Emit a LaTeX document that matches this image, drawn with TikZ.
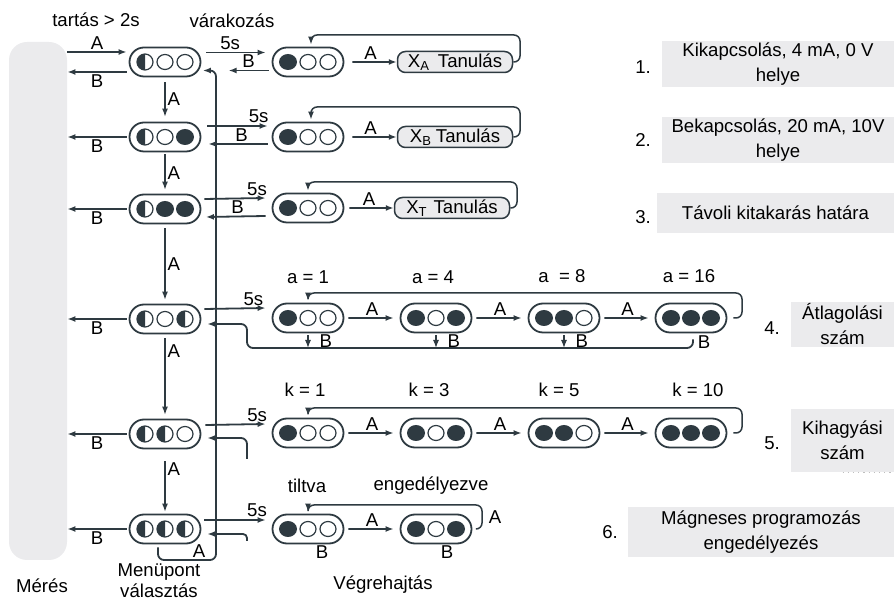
\documentclass[tikz,border=0pt]{standalone}
\usepackage{fontspec}
\setmainfont{Liberation Sans}
\usetikzlibrary{calc,positioning,shapes.misc,arrows.meta}

\definecolor{ink}{HTML}{2E3A41}
\definecolor{panel}{HTML}{EBEBED}

\tikzset{
  lampbox/.style={rounded rectangle, draw=ink, line width=0.9pt, fill=white,
    minimum width=35.5pt, minimum height=14.5pt, inner sep=0pt},
  learnbox/.style={rectangle, rounded corners=4pt, draw=ink, line width=0.75pt,
    fill=panel, minimum width=57.5pt, minimum height=10.5pt, inner ysep=0pt},
  infobox/.style={fill=panel, align=center, inner sep=0pt,
    font=\fontsize{9.3}{12.5}\selectfont},
  arr/.style={-{Latex[length=4pt,width=3pt]}, draw=ink, line width=0.9pt},
  thinarr/.style={arr, line width=0.6pt},
  looparr/.style={arr, line width=0.75pt, rounded corners=3pt},
  lbl/.style={inner sep=1pt},
}

% #1 = hely, #2 = 0 (üres), 1 (teli), 2 (fél)
\newcommand{\lamp}[2]{%
  \ifcase#2\relax
    \draw[ink, line width=0.6pt, fill=white] #1 ellipse[x radius=8, y radius=7.5];
  \or
    \fill[ink] #1 ellipse[x radius=9, y radius=8];
  \or
    \fill[ink] #1 ++(0,8) arc[start angle=90, end angle=270, radius=8] -- cycle;
    \draw[ink, line width=0.6pt] #1 circle[radius=8];
  \fi}
\newcommand{\lamps}[4]{%
  \lamp{($(#1)+(-20,0)$)}{#2}%
  \lamp{(#1.center)}{#3}%
  \lamp{($(#1)+(20,0)$)}{#4}}

\begin{document}
\begin{tikzpicture}[x=0.5pt, y=0.5pt, every node/.style={font=\fontsize{9.3}{11}\selectfont}]
  \useasboundingbox (0,0) rectangle (894,-603);

  % Mérés
  \node[fill=panel, rounded corners=9pt, minimum width=29pt, minimum height=259pt,
    inner sep=0pt] (bar) at (38,-301) {};
  \node (meres) at (42,-586) {Mérés};
  \node (tartas) at (96,-20) {tartás > 2s};
  \node (varak) at (232,-21) {várakozás};

  % menüpontok
  \node[lampbox] (m1) at (165,-62) {};
  \node[lampbox] (m2) at (165,-137) {};
  \node[lampbox] (m3) at (165,-209) {};
  \node[lampbox] (m4) at (165,-319) {};
  \node[lampbox] (m5) at (165,-434) {};
  \node[lampbox] (m6) at (165,-529) {};
  \lamps{m1}{2}{0}{0}
  \lamps{m2}{2}{0}{1}
  \lamps{m3}{2}{1}{1}
  \lamps{m4}{2}{0}{2}
  \lamps{m5}{2}{2}{0}
  \lamps{m6}{2}{2}{2}
  \node[align=center, font=\fontsize{9.3}{10.5}\selectfont] (menu) at (159,-581) {Menüpont\\választás};

  % végrehajtás
  \node[lampbox] (e1) at (308,-62) {};
  \node[lampbox] (e2) at (308,-137) {};
  \node[lampbox] (e3) at (308,-208) {};
  \node[learnbox] (xa) at (455,-62) {X\textsubscript{A}\hspace{4pt}Tanulás};
  \node[learnbox] (xb) at (455,-137) {X\textsubscript{B}\hspace{2pt}Tanulás};
  \node[learnbox] (xt) at (452,-208) {X\textsubscript{T}\hspace{3pt}Tanulás};
  \lamps{e1}{1}{0}{0}
  \lamps{e2}{1}{0}{0}
  \lamps{e3}{1}{0}{0}

  \node[lampbox] (a1) at (308,-318) {};
  \node[lampbox] (a2) at (436,-318) {};
  \node[lampbox] (a3) at (564,-318) {};
  \node[lampbox] (a4) at (691,-318) {};
  \lamps{a1}{1}{0}{0}
  \lamps{a2}{1}{0}{1}
  \lamps{a3}{1}{1}{0}
  \lamps{a4}{1}{1}{1}
  \node (la1) at (308,-277) {a = 1};
  \node (la2) at (433,-277) {a = 4};
  \node (la3) at (562,-276) {a\ \ = 8};
  \node (la4) at (689,-276) {a = 16};

  \node[lampbox] (k1) at (308,-433) {};
  \node[lampbox] (k2) at (436,-433) {};
  \node[lampbox] (k3) at (564,-433) {};
  \node[lampbox] (k4) at (691,-433) {};
  \lamps{k1}{1}{0}{0}
  \lamps{k2}{1}{0}{1}
  \lamps{k3}{1}{1}{0}
  \lamps{k4}{1}{1}{1}
  \node (lk1) at (305,-390) {k = 1};
  \node (lk2) at (429,-390) {k = 3};
  \node (lk3) at (559,-390) {k = 5};
  \node (lk4) at (698,-390) {k = 10};

  \node[lampbox] (g1) at (308,-529) {};
  \node[lampbox] (g2) at (436,-529) {};
  \lamps{g1}{1}{0}{0}
  \lamps{g2}{1}{0}{1}
  \node (tilt) at (307,-486) {tiltva};
  \node (enged) at (431,-486) {engedélyezve};
  \node (gb1) at (322,-552) {B};
  \node (gb2) at (447,-552) {B};
  \node (vegre) at (383,-585) {Végrehajtás};

  % Mérés <-> menü
  \draw[arr] ($(m1.west -| bar.east)+(0,10)$) -- ($(m1.west)+(-2,10)$)
    node[midway, above, lbl] (lA0) {A};
  \draw[arr] ($(m1.west)+(-2,-10)$) -- ($(m1.west -| bar.east)+(0,-10)$)
    node[midway, below, lbl] (lB1) {B};
  \foreach \m in {m2,m3,m4,m5,m6}
    \draw[arr] ($(\m.west)+(-2,0)$) -- (\m.west -| bar.east) node[midway, below, lbl] {B};

  % menü lefelé
  \draw[thinarr, shorten <=2.5pt, shorten >=2.5pt] (m1) -- (m2) node[midway, right, lbl] {A};
  \draw[thinarr, shorten <=1pt, shorten >=2pt] (m2) -- (m3) node[midway, right, lbl] {A};
  \draw[thinarr, shorten <=2pt, shorten >=2pt] (m3) -- (m4) node[midway, right, lbl] {A};
  \draw[thinarr, shorten <=2pt, shorten >=2pt] (m4) -- (m5) node[pos=0.2, right, lbl] {A};
  \draw[thinarr, shorten <=6pt, shorten >=1pt] (m5) -- (m6) node[pos=0.3, right, lbl] {A};

  % visszatérés
  \coordinate (ret) at (216,-560);
  \draw[arr, rounded corners=3pt] ($(m6.south)+(-7,-3)$) |- (ret) |- ($(m1.east)+(1.5,-8.5)$);
  \node[lbl] (lAret) at (199,-551) {A};

  % menü -> végrehajtás
  \draw[arr] ($(m1.east)+(5,9.5)$) -- ($(e1.west)+(-6,9.5)$) node[pos=0.4, above, lbl] {5s};
  \draw[arr] ($(e1.west)+(-3,-8.5)$) -- ($(e1.west)+(-43,-8.5)$) node[midway, above, lbl] {B};
  \draw[arr] ($(m2.east)+(6,11)$) -- ($(e2.west)+(-4,11)$) node[pos=0.85, above, lbl] {5s};
  \draw[arr] ($(e2.west)+(-4,-7)$) -- ($(m2.east)+(7,-7)$) node[pos=0.44, above, lbl] {B};
  \draw[arr] ($(m3.east)+(3,10)$) -- ($(e3.west)+(-6,10)$) node[pos=0.86, above, lbl] {5s};
  \draw[arr] ($(e3.west)+(-6,-8)$) -- ($(m3.east)+(4.5,-8)$) node[pos=0.47, above, lbl] {B};
  \draw[arr] ($(m4.east)+(3,10)$) -- ($(a1.west)+(-6,10)$) node[pos=0.8, above, lbl] {5s};
  \draw[arr] ($(m5.east)+(4,9)$) -- ($(k1.west)+(-6,9)$) node[pos=0.86, above, lbl] {5s};
  \draw[arr] ($(m6.east)+(3,9)$) -- ($(g1.west)+(-6,9)$) node[pos=0.86, above, lbl] {5s};

  % tanulás
  \draw[arr, shorten <=4pt] (e1) -- (xa) node[midway, above, lbl] {A};
  \draw[arr, shorten <=4pt] (e2) -- (xb) node[midway, above, lbl] {A};
  \draw[arr, shorten <=2.5pt] (e3) -- (xt) node[midway, above, lbl] {A};
  \coordinate (t1) at (520,-35);
  \coordinate (t2) at (520,-107);
  \coordinate (t3) at (517,-182);
  \draw[looparr] (xa.east) -| (t1) -| ($(e1.north)+(3,2)$);
  \draw[looparr] (xb.east) -| (t2) -| ($(e2.north)+(3,2)$);
  \draw[looparr] (xt.east) -| (t3) -| ($(e3.north)+(0,2)$);

  % átlagolás
  \foreach \p/\q in {a1/a2, a2/a3, a3/a4, k1/k2, k2/k3, k3/k4, g1/g2}
    \draw[arr, shorten <=2pt, shorten >=3pt] (\p) -- (\q) node[midway, above, lbl] {A};
  \coordinate (t4) at (742,-293);
  \coordinate (t5) at (742,-408);
  \coordinate (t6) at (482,-505);
  \draw[looparr, shorten <=3pt] (a4.east) -| (t4) -| ($(a1.north)+(0,2)$);
  \draw[looparr, shorten <=3pt] (k4.east) -| (t5) -| ($(k1.north)+(0,2)$);
  \draw[looparr, shorten <=2.5pt] (g2.east) -| (t6) -| ($(g1.north)+(0,2)$);
  \node[lbl] (lAg) at (495,-517) {A};

  \coordinate (bl) at (247,-348);
  \draw[arr, rounded corners=3pt] ($(a4.south)+(2,-6)$) |- (bl) |- ($(m4.east)+(6,-5)$);
  \foreach \s in {a1,a2,a3}
    \draw[thinarr, shorten <=1pt] (\s.south) -- (\s.south |- bl) node[midway, right=4.5pt, lbl] {B};
  \node[lbl] (lB4) at (704,-342) {B};

  \coordinate (h5) at (247,-459);
  \coordinate (h6) at (247,-541);
  \draw[arr, rounded corners=3pt] (h5) |- ($(m5.east)+(6,-4)$);
  \draw[arr, rounded corners=2pt] (h6) |- ($(m6.east)+(6,-5)$);

  % magyarázat
  \node[infobox, minimum width=116pt, minimum height=23pt] (i1) at (778,-64) {Kikapcsolás, 4 mA, 0 V\\helye};
  \node[infobox, minimum width=116pt, minimum height=23pt] (i2) at (778,-140) {Bekapcsolás, 20 mA, 10V\\helye};
  \node[infobox, minimum width=118.5pt, minimum height=20pt] (i3) at (775.5,-213) {Távoli kitakarás határa};
  \node[infobox, minimum width=51.5pt, minimum height=22.5pt] (i4) at (842.5,-324.5) {Átlagolási\\szám};
  \node[infobox, minimum width=51.5pt, minimum height=31.5pt] (i5) at (842.5,-440.5) {Kihagyási\\szám};
  \node[infobox, minimum width=133pt, minimum height=25pt] (i6) at (761,-532) {Mágneses programozás\\engedélyezés};
  \node (n1) at (643,-67) {1.};
  \node (n2) at (643,-140) {2.};
  \node (n3) at (643,-217) {3.};
  \node (n4) at (772,-328) {4.};
  \node (n5) at (772,-443) {5.};
  \node (n6) at (610,-532) {6.};
  \draw[gray!50, dotted, line width=0.6pt] (i5.south) -- (i5.south east);
\end{tikzpicture}
\end{document}
